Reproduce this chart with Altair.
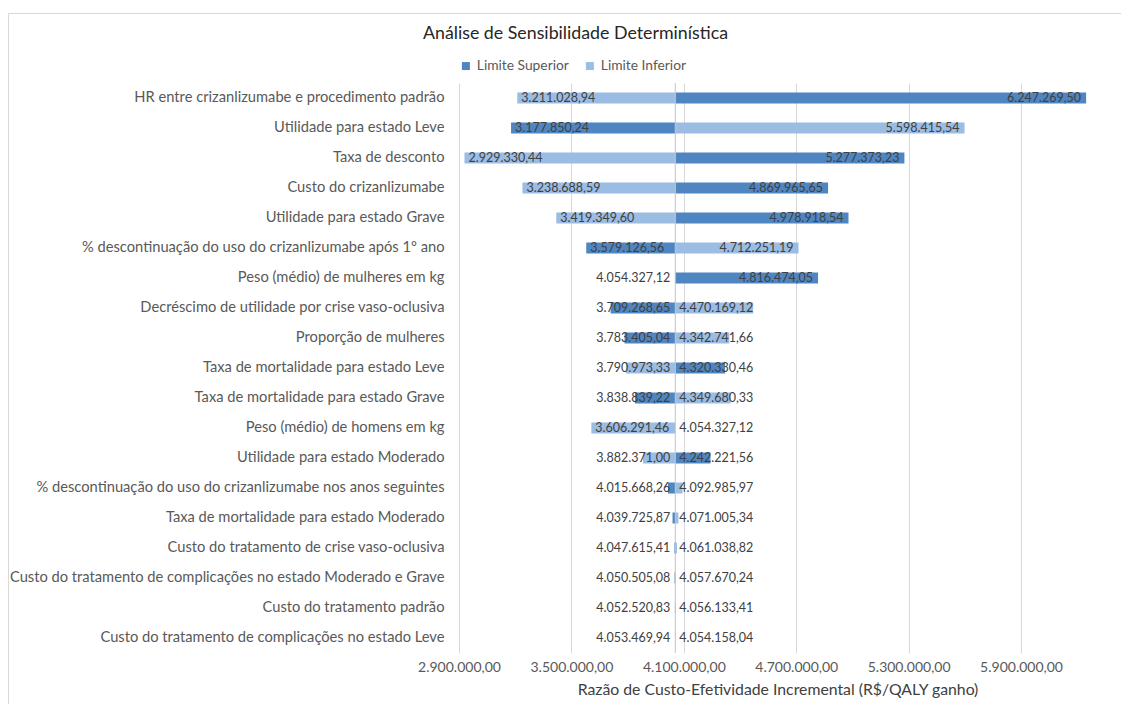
import altair as alt
import pandas as pd

# ---------------- data ----------------
params = [
    "HR entre crizanlizumabe e procedimento padrão",
    "Utilidade para estado Leve",
    "Taxa de desconto",
    "Custo do crizanlizumabe",
    "Utilidade para estado Grave",
    "% descontinuação do uso do crizanlizumabe após 1º ano",
    "Peso (médio) de mulheres em kg",
    "Decréscimo de utilidade por crise vaso-oclusiva",
    "Proporção de mulheres",
    "Taxa de mortalidade para estado Leve",
    "Taxa de mortalidade para estado Grave",
    "Peso (médio) de homens em kg",
    "Utilidade para estado Moderado",
    "% descontinuação do uso do crizanlizumabe nos anos seguintes",
    "Taxa de mortalidade para estado Moderado",
    "Custo do tratamento de crise vaso-oclusiva",
    "Custo do tratamento de complicações no estado Moderado e Grave",
    "Custo do tratamento padrão",
    "Custo do tratamento de complicações no estado Leve",
]
limite_superior = [
    6247269.50, 3177850.24, 5277373.23, 4869965.65, 4978918.54, 3579126.56,
    4816474.05, 3709268.65, 3783405.04, 4320330.46, 3838839.22, 4054327.12,
    4242221.56, 4015668.26, 4039725.87, 4061038.82, 4050505.08, 4052520.83,
    4053469.94,
]
limite_inferior = [
    3211028.94, 5598415.54, 2929330.44, 3238688.59, 3419349.60, 4712251.19,
    4054327.12, 4470169.12, 4342741.66, 3790973.33, 4349680.33, 3606291.46,
    3882371.00, 4092985.97, 4071005.34, 4047615.41, 4057670.24, 4056133.41,
    4054158.04,
]
base_value = 4054327.12
series_names = ["Limite Superior", "Limite Inferior"]
series_colors = ["#4F86C1", "#9BBCE3"]
tick_values = [2900000, 3500000, 4100000, 4700000, 5300000, 5900000]
x_domain = [2900000, 6300000]

# ---------------- layout constants ----------------
W, H = 637, 570
units_per_px = (x_domain[1] - x_domain[0]) / W
label_px = 73  # width of a value label in the reference
pad_px = 5


def br(v):
    s = f"{v:,.2f}"
    return s.replace(",", "_").replace(".", ",").replace("_", ".")


rows = []
for i, p in enumerate(params):
    vals = {"Limite Superior": limite_superior[i], "Limite Inferior": limite_inferior[i]}
    for s in series_names:
        v = vals[s]
        other = vals["Limite Inferior" if s == "Limite Superior" else "Limite Superior"]
        side = -1 if v < other else 1
        width_px = abs(v - base_value) / units_per_px
        fits = width_px >= label_px + 2 * pad_px
        if side < 0:
            if fits:
                anchor, align = v, "left"
            else:
                anchor, align = base_value, "right"
        else:
            if fits:
                anchor, align = v, "right"
            else:
                anchor, align = base_value, "left"
        rows.append(dict(param=p, series=s, value=v, base=base_value,
                         label=br(v), anchor=anchor, align=align))
df = pd.DataFrame(rows)
base_df = pd.DataFrame({"base": [base_value]})

FONT = "Lato"

x_scale = alt.Scale(domain=x_domain, nice=False, zero=False)
y_scale = alt.Scale(paddingInner=0, paddingOuter=0)

label_expr = ("replace(replace(replace(format(datum.value, ',.2f'), regexp(',', 'g'), '_'), "
              "regexp('[.]', 'g'), ','), regexp('_', 'g'), '.')")

x_axis = alt.Axis(values=tick_values, labelExpr=label_expr, grid=True,
                  gridColor="#D9D9D9", domain=False, ticks=False,
                  labelFont=FONT, labelFontSize=14, labelColor="#595959",
                  labelPadding=7, labelOverlap=False, labelFlush=False,
                  title="Razão de Custo-Efetividade Incremental (R$/QALY ganho)",
                  titleFont=FONT, titleFontSize=15.8, titleFontWeight="normal",
                  titleColor="#404040", titlePadding=8)
y_axis = alt.Axis(title=None, labelLimit=0, labelPadding=15, ticks=False,
                  domain=False, labelFont=FONT, labelFontSize=14.7,
                  labelColor="#595959", grid=False)

frame_top = alt.Chart(base_df).mark_rule(color="#D9D9D9", strokeWidth=1).encode(
    x=alt.value(-451), x2=alt.value(W + 25), y=alt.value(-69.5)
)
frame_left = alt.Chart(base_df).mark_rule(color="#D9D9D9", strokeWidth=1).encode(
    x=alt.value(-450.5), y=alt.value(-70), y2=alt.value(H + 51)
)

bars = alt.Chart(df).mark_bar(size=11).encode(
    y=alt.Y("param:N", sort=params, scale=y_scale, axis=y_axis),
    x=alt.X("value:Q", scale=x_scale, axis=x_axis),
    x2="base:Q",
    color=alt.Color("series:N", scale=alt.Scale(domain=series_names, range=series_colors),
                    legend=alt.Legend(title=None, orient="none", direction="horizontal",
                                      legendX=0, legendY=-24, symbolType="square",
                                      symbolSize=64, symbolStrokeWidth=0,
                                      labelFont=FONT, labelFontSize=13.8,
                                      labelColor="#595959", columnPadding=14,
                                      padding=0)),
)

base_rule = alt.Chart(base_df).mark_rule(color="#C4C4C4", strokeWidth=1).encode(
    x=alt.X("base:Q", scale=x_scale)
)

text_left = alt.Chart(df).transform_filter(alt.datum.align == "left").mark_text(
    align="left", baseline="middle", dx=4, font=FONT, fontSize=12.5, color="#404040"
).encode(
    y=alt.Y("param:N", sort=params, scale=y_scale),
    x=alt.X("anchor:Q", scale=x_scale),
    text="label:N",
)
text_right = alt.Chart(df).transform_filter(alt.datum.align == "right").mark_text(
    align="right", baseline="middle", dx=-5, font=FONT, fontSize=12.5, color="#404040"
).encode(
    y=alt.Y("param:N", sort=params, scale=y_scale),
    x=alt.X("anchor:Q", scale=x_scale),
    text="label:N",
)

chart = alt.layer(frame_top, frame_left, bars, base_rule, text_left, text_right).properties(
    width=W, height=H,
    background="white",
    title=alt.Title("Análise de Sensibilidade Determinística", font=FONT, fontSize=17.8,
                    fontWeight="normal", color="#262626", anchor="middle", dx=-202, dy=34),
    autosize=alt.AutoSizeParams(type="none"),
    padding={"left": 451, "top": 75, "right": 25, "bottom": 51},
).configure_view(strokeOpacity=0, strokeWidth=0)

chart.save("out.html", embed_options={"renderer": "svg", "actions": False})
